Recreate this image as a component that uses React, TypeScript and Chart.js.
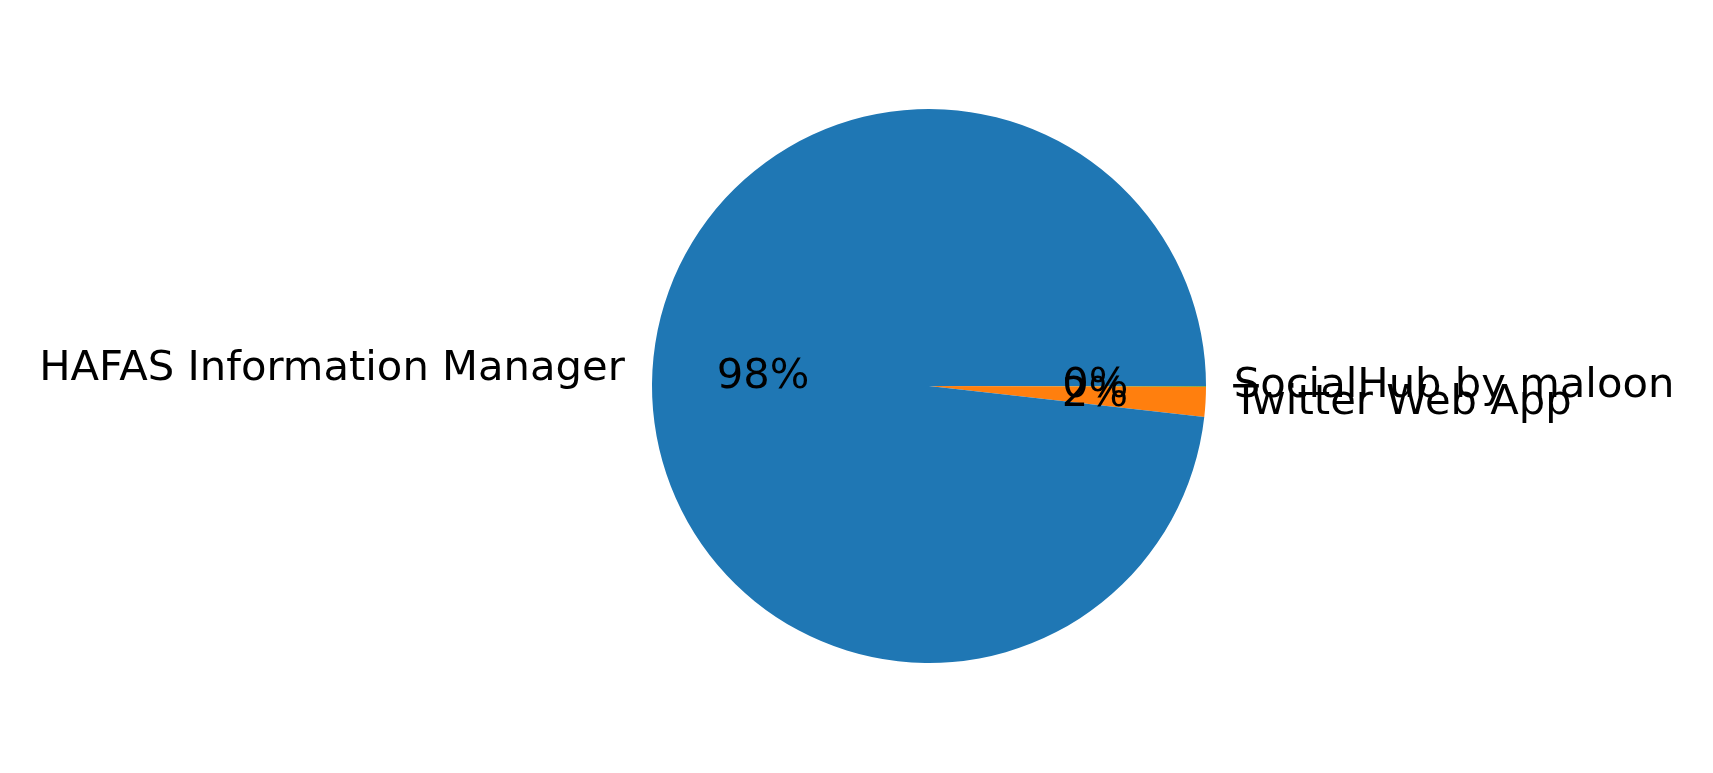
import React, { useEffect, useRef } from "react";
import { Chart, registerables } from "chart.js";

Chart.register(...registerables);

// Data in matplotlib order (counter-clockwise from 3 o'clock)
const labels = ["HAFAS Information Manager", "Twitter Web App", "SocialHub by maloon"];
const values = [2260, 40, 1];
const colors = ["#1f77b4", "#ff7f0e", "#2ca02c"];

const FONT = "41.7px 'DejaVu Sans'";

const pieLabels = {
  id: "pieLabels",
  afterDraw(chart: any) {
    const ctx = chart.ctx;
    const meta = chart.getDatasetMeta(0);
    const data = chart.data.datasets[0].data as number[];
    const total = data.reduce((a, b) => a + b, 0);
    ctx.save();
    ctx.font = FONT;
    ctx.fillStyle = "#000";
    ctx.textBaseline = "middle";
    const order = meta.data.map((_: any, i: number) => i).reverse();
    for (const i of order) {
      const arc = meta.data[i] as any;
      const { x, y, startAngle, endAngle, outerRadius } = arc.getProps(
        ["x", "y", "startAngle", "endAngle", "outerRadius"],
        true
      );
      const mid = (startAngle + endAngle) / 2;
      const c = Math.cos(mid);
      const s = Math.sin(mid);
      const lx = x + 1.1 * outerRadius * c;
      const ly = y + 1.1 * outerRadius * s;
      ctx.textAlign = c > 0 ? "left" : "right";
      ctx.fillText(chart.data.labels[i], lx, ly);
      const px = x + 0.6 * outerRadius * c;
      const py = y + 0.6 * outerRadius * s;
      ctx.textAlign = "center";
      ctx.fillText(((data[i] / total) * 100).toFixed(0) + "%", px, py);
    }
    ctx.restore();
  },
};

export default function App() {
  const ref = useRef<HTMLCanvasElement>(null);
  useEffect(() => {
    document.body.style.margin = "0";
    const rev = (a: any[]) => a.slice().reverse();
    const chart = new Chart(ref.current!, {
      type: "pie",
      data: {
        labels: rev(labels),
        datasets: [
          {
            data: rev(values),
            backgroundColor: rev(colors),
            borderWidth: 0,
          },
        ],
      },
      options: {
        animation: false,
        responsive: false,
        rotation: 90,
        layout: { padding: { top: 109, bottom: 110, left: 652, right: 507 } },
        plugins: { legend: { display: false }, tooltip: { enabled: false } },
      },
      plugins: [pieLabels],
    });
    return () => chart.destroy();
  }, []);
  return (
    <div style={{ position: "fixed", left: 0, top: 0, width: 1713, height: 773, background: "#fff" }}>
      <canvas ref={ref} width={1713} height={773} style={{ width: 1713, height: 773 }} />
    </div>
  );
}
